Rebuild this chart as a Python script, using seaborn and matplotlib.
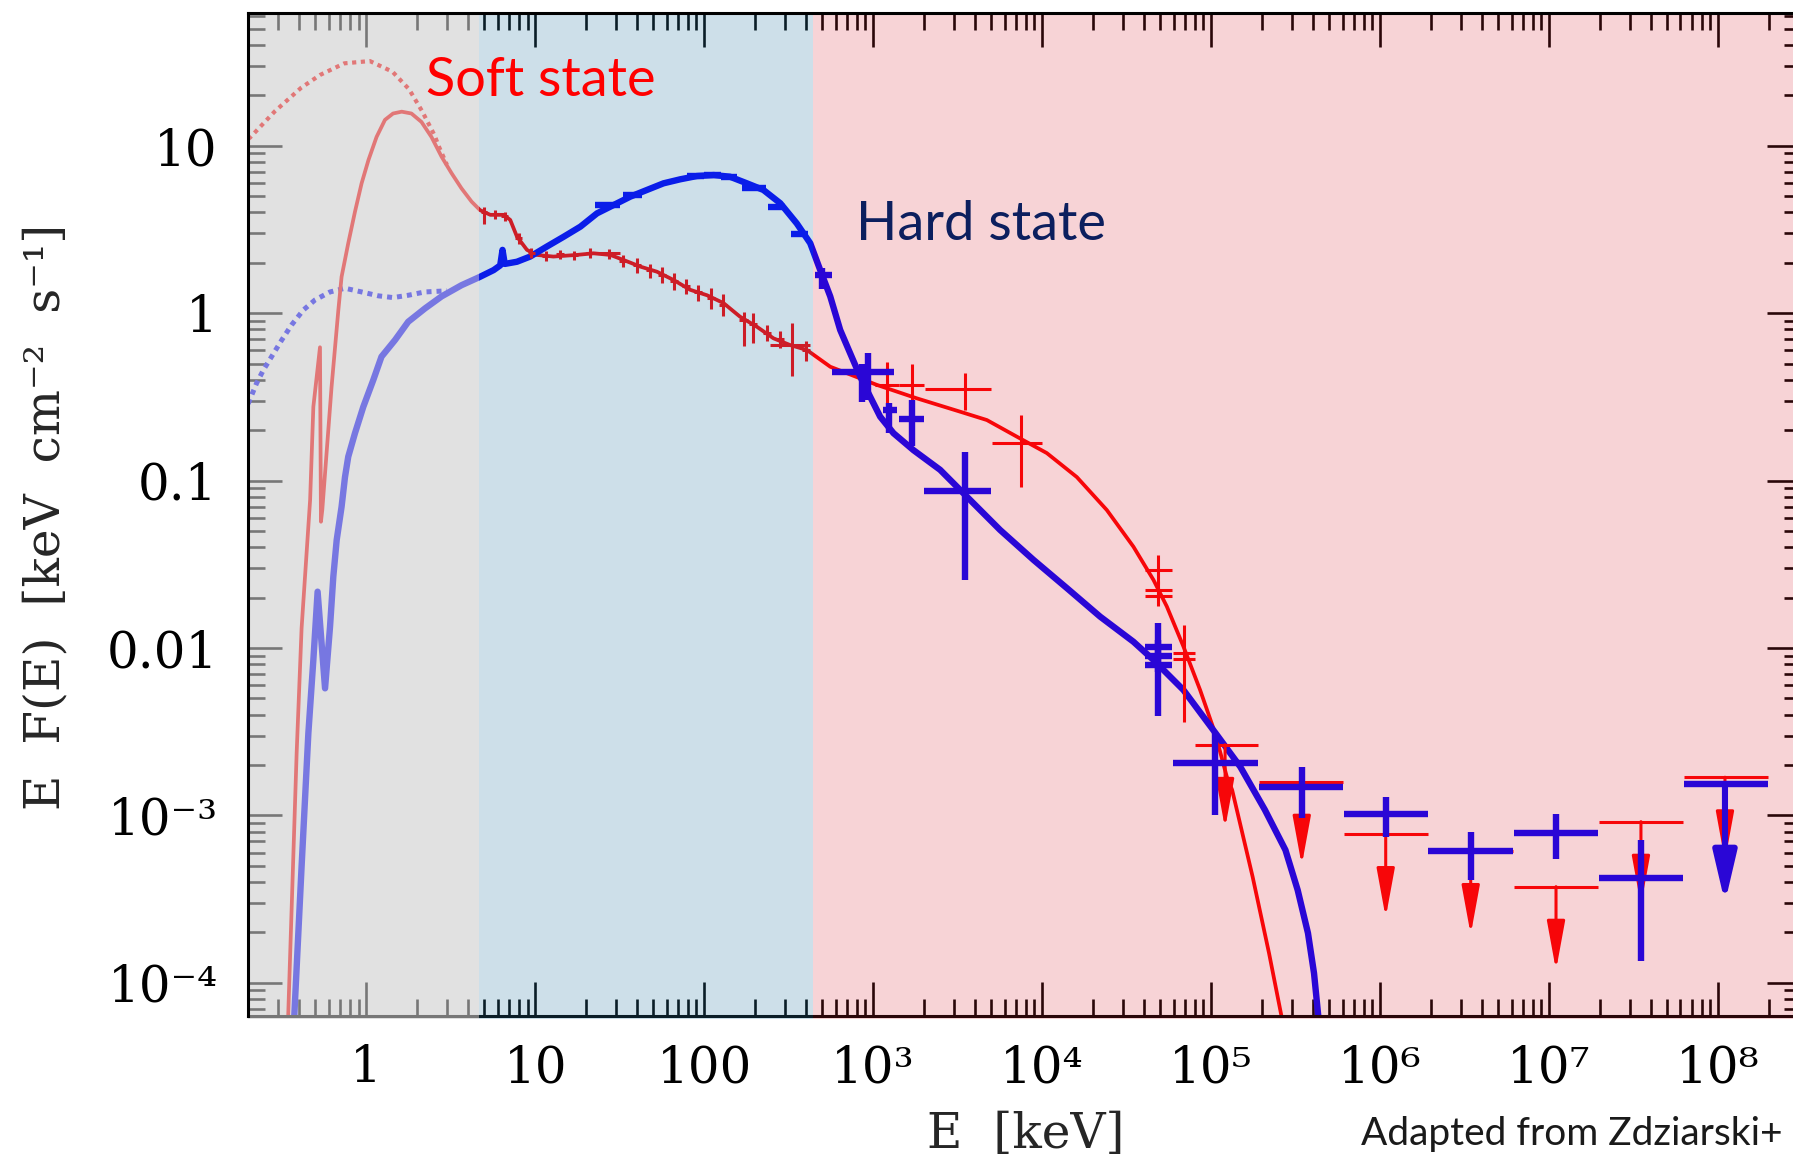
import numpy as np
import pandas as pd
import matplotlib
matplotlib.use("Agg")
import matplotlib.pyplot as plt
import matplotlib.transforms as mtransforms
from matplotlib.patches import Rectangle
from matplotlib.ticker import FixedLocator, FixedFormatter, LogLocator, NullFormatter
import seaborn as sns

# ---------------- model spectra: E [keV] vs E F(E) [keV cm^-2 s^-1] ----------------
# soft state, absorbed model (solid)
soft_model_E = [0.345, 0.387, 0.414, 0.465, 0.486, 0.532, 0.539, 0.549, 0.623, 0.683,
                0.714, 0.782, 0.857, 0.938, 1.03, 1.15, 1.29, 1.44, 1.62, 1.85,
                2.12, 2.43, 2.79, 3.20, 3.66, 4.20, 4.71, 5.42, 6.49, 7.11,
                7.79, 8.93, 10.2, 12.8, 17.6, 22.1, 27.8, 33.3, 41.8, 52.5,
                65.8, 82.6, 104, 130, 163, 205, 257, 323, 405, 557,
                1052, 1815, 3273, 4710, 7087, 10660, 16040, 24150, 34690, 45600,
                54700, 68600, 86100, 105700, 123900, 133200, 176000, 220300, 260300]
soft_model_F = [6.4e-5, 2.35e-3, 0.0131, 0.0766, 0.276, 0.626, 0.0568, 0.0669, 0.364, 1.04,
                1.65, 2.62, 4.04, 5.97, 8.23, 11.3, 14.3, 15.6, 16.0, 15.6,
                13.9, 11.3, 8.61, 6.85, 5.57, 4.64, 4.13, 3.87, 3.87, 3.61,
                2.87, 2.39, 2.23, 2.18, 2.23, 2.28, 2.23, 2.08, 1.90, 1.77,
                1.58, 1.38, 1.28, 1.15, 0.953, 0.830, 0.708, 0.645, 0.603, 0.479,
                0.373, 0.310, 0.258, 0.230, 0.183, 0.146, 0.105, 0.0667, 0.0403, 0.0255,
                0.0177, 0.0102, 5.61e-3, 3.09e-3, 1.70e-3, 1.42e-3, 4.31e-4, 1.50e-4, 6.4e-5]

# soft state, unabsorbed disc (dotted)
soft_disk_E = [0.2, 0.205, 0.288, 0.411, 0.532, 0.741, 1.05, 1.43, 1.79, 2.14, 2.53, 2.69, 3.0]
soft_disk_F = [11.0, 11.2, 16.1, 22.2, 26.5, 31.1, 32.1, 27.7, 21.8, 16.1, 11.6, 9.9, 7.7]

# hard state, absorbed model (solid)
hard_model_E = [0.375, 0.414, 0.454, 0.486, 0.515, 0.570, 0.610, 0.638, 0.668, 0.714,
                0.748, 0.782, 0.857, 0.960, 1.10, 1.23, 1.48, 1.77, 2.23, 2.79,
                3.66, 4.71, 5.67, 6.2, 6.4, 6.6, 7.79, 9.33, 11.7, 14.7,
                18.5, 23.2, 29.1, 36.5, 45.8, 57.4, 72.1, 90.5, 114, 142,
                179, 224, 282, 353, 424, 486, 557, 638, 731, 838,
                960, 1100, 1319, 1732, 2490, 3583, 5640, 8890, 14000, 22030,
                34700, 45600, 68600, 106500, 148900, 208000, 275400, 325400, 374400, 406600,
                430400]
hard_model_F = [6.4e-5, 4.94e-4, 3.09e-3, 8.48e-3, 0.0217, 5.74e-3, 0.0134, 0.0267, 0.0442, 0.0698,
                0.105, 0.139, 0.192, 0.276, 0.399, 0.550, 0.692, 0.889, 1.07, 1.26,
                1.47, 1.65, 1.81, 1.93, 2.39, 1.97, 2.03, 2.18, 2.50, 2.86,
                3.29, 3.95, 4.43, 4.97, 5.45, 5.97, 6.31, 6.60, 6.69, 6.54,
                5.97, 5.45, 4.54, 3.44, 2.62, 1.81, 1.26, 0.794, 0.576, 0.418,
                0.317, 0.241, 0.192, 0.152, 0.116, 0.0802, 0.0507, 0.0336, 0.0228, 0.0154,
                0.0109, 8.48e-3, 5.61e-3, 3.09e-3, 1.95e-3, 1.08e-3, 6.21e-4, 3.58e-4, 1.98e-4, 1.14e-4,
                6.4e-5]

# hard state, unabsorbed model (dotted)
hard_disk_E = [0.2, 0.224, 0.246, 0.275, 0.316, 0.361, 0.424, 0.497, 0.610, 0.748,
               0.938, 1.18, 1.44, 1.77, 2.22, 3.0]
hard_disk_F = [0.288, 0.381, 0.458, 0.550, 0.692, 0.850, 1.045, 1.20, 1.34, 1.41,
               1.34, 1.27, 1.24, 1.28, 1.34, 1.36]

# ---------------- measured points ----------------
soft_E   = [5.0, 5.8, 6.6, 8.0, 9.5, 11.5, 14.0, 17.0, 21.0, 27.2, 33.0, 40.0, 48.0, 56.0,
            66.0, 78.0, 92.0, 110, 130, 171, 195, 235, 280, 330, 400,
            1205, 1694, 3473, 7464, 48800, 48800, 48800, 69000, 69000]
soft_Elo = [4.8, 5.5, 6.3, 7.6, 9.0, 11.0, 13.3, 16.2, 20.0, 21.1, 31.5, 38.0, 45.5, 53.0,
            62.5, 74.0, 87.0, 104, 123, 160, 185, 222, 265, 245, 380,
            1028, 1413, 2031, 5040, 40700, 40700, 40700, 59900, 59900]
soft_Ehi = [5.2, 6.1, 6.9, 8.4, 10.0, 12.0, 14.7, 17.8, 22.0, 31.8, 34.5, 42.0, 50.5, 59.0,
            69.5, 82.0, 97.0, 116, 137, 182, 205, 248, 295, 424, 420,
            1413, 1986, 4970, 9960, 58500, 58500, 58500, 80400, 80400]
soft_F   = [4.0, 3.9, 3.8, 2.8, 2.3, 2.2, 2.25, 2.22, 2.3, 2.28, 2.05, 1.95, 1.80, 1.70,
            1.55, 1.45, 1.33, 1.24, 1.12, 0.91, 0.86, 0.76, 0.70, 0.645, 0.60,
            0.373, 0.37, 0.351, 0.168, 0.0292, 0.0222, 0.0205, 9.3e-3, 8.6e-3]
soft_Flo = [3.4, 3.65, 3.55, 2.6, 2.15, 2.05, 2.1, 2.08, 2.15, 2.12, 1.88, 1.75, 1.62, 1.52,
            1.38, 1.30, 1.19, 1.06, 0.96, 0.64, 0.66, 0.68, 0.62, 0.42, 0.52,
            0.241, 0.236, 0.264, 0.092, 0.0240, 0.0195, 0.0177, 3.63e-3, 7.8e-3]
soft_Fhi = [4.3, 4.15, 4.05, 3.0, 2.45, 2.35, 2.4, 2.36, 2.45, 2.42, 2.22, 2.15, 1.98, 1.90,
            1.74, 1.60, 1.48, 1.42, 1.30, 1.01, 1.0, 0.85, 0.78, 0.87, 0.68,
            0.513, 0.50, 0.437, 0.246, 0.036, 0.0250, 0.0230, 0.0137, 9.4e-3]

soft_ul_E   = [121000, 344000, 1.08e6, 3.44e6, 1.10e7, 3.50e7, 1.10e8]
soft_ul_Elo = [80400, 191000, 6.12e5, 1.92e6, 6.18e6, 1.98e7, 6.29e7]
soft_ul_Ehi = [190500, 601000, 1.91e6, 6.12e6, 1.95e7, 6.21e7, 1.98e8]
soft_ul_F   = [2.64e-3, 1.59e-3, 7.74e-4, 6.13e-4, 3.75e-4, 9.17e-4, 1.69e-3]

hard_E   = [27.0, 38.0, 90.0, 112, 140, 200, 270, 360, 500,
            855, 935, 1233, 1694, 3501, 48800, 48800, 48800,
            105700, 344000, 1.08e6, 3.44e6, 1.10e7, 3.50e7]
hard_Elo = [22.6, 33.0, 79.0, 100, 125, 167, 240, 325, 453,
            570, 800, 1151, 1413, 2003, 40700, 40700, 40700,
            59900, 191000, 6.12e5, 1.92e6, 6.18e6, 1.98e7]
hard_Ehi = [31.8, 43.0, 100.0, 125, 156, 233, 300, 412, 571,
            890, 1320, 1380, 1986, 4970, 58500, 58500, 58500,
            190500, 601000, 1.91e6, 6.12e6, 1.95e7, 6.21e7]
hard_F   = [4.45, 5.1, 6.62, 6.68, 6.55, 5.6, 4.3, 2.97, 1.70,
            0.447, 0.447, 0.264, 0.232, 0.0867, 0.0102, 0.0089, 0.0079,
            2.06e-3, 1.48e-3, 1.02e-3, 6.13e-4, 7.81e-4, 4.21e-4]
hard_Flo = [4.3, 4.95, 6.48, 6.54, 6.4, 5.45, 4.15, 2.85, 1.39,
            0.296, 0.303, 0.192, 0.160, 0.0255, 0.0093, 0.0039, 0.0072,
            1.00e-3, 9.6e-4, 7.46e-4, 4.11e-4, 5.47e-4, 1.34e-4]
hard_Fhi = [4.6, 5.25, 6.78, 6.82, 6.7, 5.75, 4.45, 3.1, 1.86,
            0.50, 0.576, 0.290, 0.303, 0.149, 0.0112, 0.0141, 0.0086,
            3.09e-3, 1.95e-3, 1.29e-3, 8.0e-4, 1.02e-3, 7.13e-4]

hard_ul_E   = [1.10e8]
hard_ul_Elo = [6.29e7]
hard_ul_Ehi = [1.98e8]
hard_ul_F   = [1.54e-3]

# energy bands (keV) and axis ticks
band_edges = [0.2, 4.66, 443, 3.1e8]
x_ticks = [1, 10, 100, 1e3, 1e4, 1e5, 1e6, 1e7, 1e8]
x_tick_labels = ["1", "10", "100", "10³", "10⁴", "10⁵", "10⁶", "10⁷", "10⁸"]
y_ticks = [1e-4, 1e-3, 1e-2, 0.1, 1, 10]
y_tick_labels = ["10⁻⁴", "10⁻³", "0.01", "0.1", "1", "10"]

# ---------------- styling ----------------
sns.set_theme(style="white")
plt.rcParams["font.family"] = ["DejaVu Serif"]

RED = "#ff0000"
BLUE = "#0000ff"
W, H = 1793, 1166
fig = plt.figure(figsize=(W / 100, H / 100), dpi=100)
fig.patch.set_facecolor("white")
ax = fig.add_axes([248.2 / W, (H - 1016) / H, (1801 - 248.2) / W, (1016 - 12.5) / H])
ax.set_facecolor("white")
ax.set_xscale("log")
ax.set_yscale("log")

soft_model = pd.DataFrame({"E": soft_model_E, "EF": soft_model_F})
soft_disk = pd.DataFrame({"E": soft_disk_E, "EF": soft_disk_F})
hard_model = pd.DataFrame({"E": hard_model_E, "EF": hard_model_F})
hard_disk = pd.DataFrame({"E": hard_disk_E, "EF": hard_disk_F})

line_kw = dict(sort=False, estimator=None, errorbar=None, legend=False)
sns.lineplot(data=soft_disk, x="E", y="EF", ax=ax, color=RED, lw=3.0,
             linestyle=(0, (1, 1.1)), zorder=2, **line_kw)
sns.lineplot(data=hard_disk, x="E", y="EF", ax=ax, color=BLUE, lw=3.6,
             linestyle=(0, (1, 1.0)), zorder=2, **line_kw)
sns.lineplot(data=soft_model, x="E", y="EF", ax=ax, color=RED, lw=2.7, zorder=2.2, **line_kw)
sns.lineplot(data=hard_model, x="E", y="EF", ax=ax, color=BLUE, lw=4.6, zorder=2.3, **line_kw)

def err(center, lo, hi):
    c = np.asarray(center, float)
    return [c - np.asarray(lo, float), np.asarray(hi, float) - c]

ax.errorbar(soft_E, soft_F, xerr=err(soft_E, soft_Elo, soft_Ehi),
            yerr=err(soft_F, soft_Flo, soft_Fhi), fmt="none", ecolor=RED,
            elinewidth=2.2, capsize=0, zorder=2.6)
ax.errorbar(soft_ul_E, soft_ul_F, xerr=err(soft_ul_E, soft_ul_Elo, soft_ul_Ehi),
            fmt="none", ecolor=RED, elinewidth=2.2, capsize=0, zorder=2.6)
for e, f in zip(soft_ul_E, soft_ul_F):
    ax.annotate("", xy=(e, f * 10 ** -0.5), xytext=(e, f),
                arrowprops=dict(arrowstyle="-|>,head_length=3.0,head_width=0.55",
                                color=RED, lw=2.2, shrinkA=0, shrinkB=0,
                                mutation_scale=10), zorder=2.6)

ax.errorbar(hard_E, hard_F, xerr=err(hard_E, hard_Elo, hard_Ehi),
            yerr=err(hard_F, hard_Flo, hard_Fhi), fmt="none", ecolor=BLUE,
            elinewidth=4.6, capsize=0, zorder=2.8)
ax.errorbar(hard_ul_E, hard_ul_F, xerr=err(hard_ul_E, hard_ul_Elo, hard_ul_Ehi),
            fmt="none", ecolor=BLUE, elinewidth=4.6, capsize=0, zorder=2.8)
for e, f in zip(hard_ul_E, hard_ul_F):
    ax.annotate("", xy=(e, f * 10 ** -0.71), xytext=(e, f),
                arrowprops=dict(arrowstyle="-|>,head_length=3.0,head_width=0.7",
                                color=BLUE, lw=4.4, shrinkA=0, shrinkB=0,
                                mutation_scale=10), zorder=2.8)

ax.set_xlim(band_edges[0], band_edges[-1])
ax.set_ylim(6.33e-5, 62.6)

# translucent energy bands laid over the spectra
band_colors = [(204 / 255, 204 / 255, 204 / 255), (46 / 255, 125 / 255, 167 / 255),
               (215 / 255, 35 / 255, 50 / 255)]
band_alpha = [0.59, 0.24, 0.20]
trans = mtransforms.blended_transform_factory(ax.transData, ax.transAxes)
for x0, x1, c, a in zip(band_edges[:-1], band_edges[1:], band_colors, band_alpha):
    ax.add_patch(Rectangle((x0, -0.003), x1 - x0, 1.003, transform=trans,
                           facecolor=c, alpha=a, edgecolor="none", zorder=4,
                           clip_on=False))

# axes frame and ticks
for s in ax.spines.values():
    s.set_color("black")
    s.set_linewidth(2.2)
ax.spines["left"].set_zorder(6)
ax.spines["top"].set_zorder(6)

ax.xaxis.set_major_locator(FixedLocator(x_ticks))
ax.xaxis.set_major_formatter(FixedFormatter(x_tick_labels))
ax.yaxis.set_major_locator(FixedLocator(y_ticks))
ax.yaxis.set_major_formatter(FixedFormatter(y_tick_labels))
ax.xaxis.set_minor_locator(LogLocator(base=10, subs=np.arange(2, 10), numticks=60))
ax.yaxis.set_minor_locator(LogLocator(base=10, subs=np.arange(2, 10), numticks=60))
ax.xaxis.set_minor_formatter(NullFormatter())
ax.yaxis.set_minor_formatter(NullFormatter())
ax.tick_params(which="both", direction="in", top=True, right=True, bottom=True,
               left=True, color="black", width=1.9)
ax.tick_params(which="major", length=24.5, labelsize=36, labelcolor="black")
ax.tick_params(which="minor", length=12)
ax.tick_params(axis="x", which="major", pad=20)
ax.tick_params(axis="y", which="major", pad=22)
for lab in ax.get_xticklabels() + ax.get_yticklabels():
    lab.set_fontfamily(["DejaVu Serif"])

ax.set_xlabel("E  [keV]", fontsize=35, fontfamily=["DejaVu Serif"])
ax.xaxis.set_label_coords((1026 - 248.2) / (1801 - 248.2), -(1135 - 1016) / (1016 - 12.5))
ax.xaxis.label.set_va("center")
ax.set_ylabel("E  F(E)  [keV  cm⁻²  s⁻¹]", fontsize=35, fontfamily=["DejaVu Serif"])
ax.yaxis.set_label_coords(-(248.2 - 46) / (1801 - 248.2), (1016 - 517) / (1016 - 12.5))
ax.yaxis.label.set_va("center")

# annotations
fig.text(426 / W, 1 - 96 / H, "Soft state", color=RED, fontsize=39,
         fontfamily=["Lato"], ha="left", va="baseline")
fig.text(856 / W, 1 - 240 / H, "Hard state", color="#0c1f5e", fontsize=39,
         fontfamily=["Lato"], ha="left", va="baseline")
fig.text(1361 / W, 1 - 1145 / H, "Adapted from Zdziarski+", color="#1a1a1a",
         fontsize=28, fontfamily=["Lato"], ha="left", va="baseline")

fig.savefig("out.png", dpi=100)
